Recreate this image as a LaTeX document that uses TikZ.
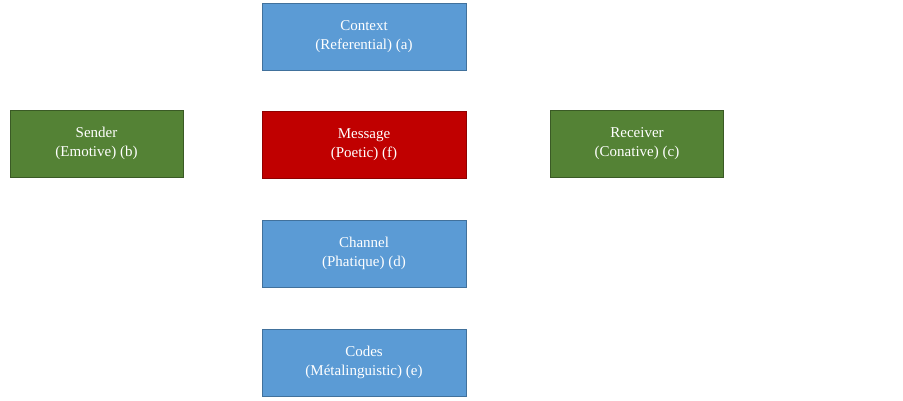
\documentclass[tikz,border=0pt]{standalone}
\usepackage{fontspec}
\setmainfont{Liberation Serif}
\definecolor{bl}{HTML}{5B9BD5}
\definecolor{blb}{HTML}{41719C}
\definecolor{gr}{HTML}{548235}
\definecolor{grb}{HTML}{3A5A25}
\definecolor{rd}{HTML}{C00000}
\definecolor{rdb}{HTML}{8F0000}
\begin{document}
\begin{tikzpicture}[x=1pt,y=-1pt,
 box/.style={draw=#1b,fill=#1,line width=1pt,text=white,align=center,minimum height=67pt,inner sep=0pt,font=\fontsize{15}{19}\selectfont},
 wide/.style={minimum width=204pt}, narrow/.style={minimum width=173pt}]
\useasboundingbox (0,0) rectangle (903,400);
\node[box=bl,wide] (ctx) at (364,36.5) {Context\\(Referential) (a)};
\node[box=gr,narrow] (snd) at (96.5,143.5) {Sender\\(Emotive) (b)};
\node[box=rd,wide] (msg) at (364,144.5) {Message\\(Poetic) (f)};
\node[box=gr,narrow] (rcv) at (637,143.5) {Receiver\\(Conative) (c)};
\node[box=bl,wide] (chn) at (364,253.5) {Channel\\(Phatique) (d)};
\node[box=bl,wide] (cod) at (364,362.5) {Codes\\(Métalinguistic) (e)};
\end{tikzpicture}
\end{document}
